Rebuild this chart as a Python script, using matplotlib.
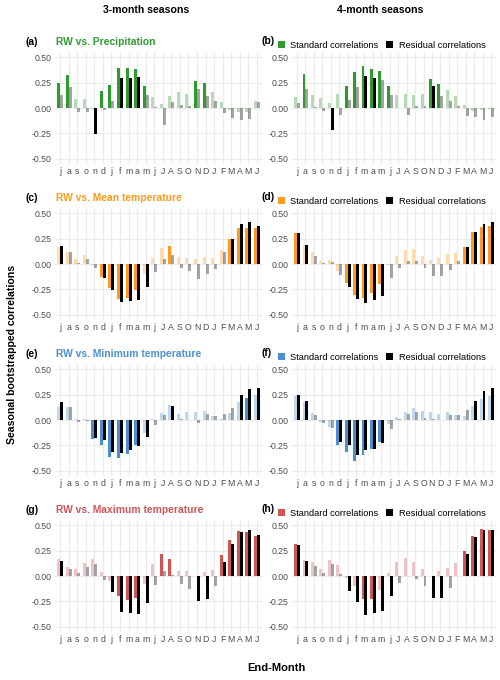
import numpy as np
import matplotlib
matplotlib.use("Agg")
import matplotlib.pyplot as plt
from matplotlib.colors import to_rgba
from matplotlib.patches import Patch

# ------------------ Configurable ------------------
OUT_PNG   = "out.png"
FIG_W_PX  = 500
FIG_H_PX  = 680
DPI       = 100
BAR_W     = 0.35     # width of each bar in a dodged pair
LIGHT_A   = 0.35     # alpha for non-significant bars
GRID_COL  = "#ebebeb"
TICK_COL  = "#4d4d4d"
# -------------------------------------------------

MONTHS = ["j", "a", "s", "o", "n", "d", "j", "f", "m", "a", "m", "j",
          "J", "A", "S", "O", "N", "D", "J", "F", "M", "A", "M", "J"]
YTICKS = [-0.50, -0.25, 0.00, 0.25, 0.50]

# (a) RW vs. Precipitation, 3-month seasons
prec3_std     = [0.25, 0.32, 0.085, 0.085, -0.01, 0.17, 0.23, 0.39, 0.39, 0.38, 0.22, 0.11,
                 0.04, 0.12, 0.155, 0.135, 0.27, 0.245, 0.155, 0.06, -0.02, -0.035, -0.04, 0.065]
prec3_res     = [0.13, 0.21, -0.04, -0.04, -0.26, -0.02, 0.07, 0.29, 0.29, 0.30, 0.125, 0.005,
                 -0.165, 0.055, 0.03, 0.015, 0.19, 0.12, 0.07, -0.05, -0.10, -0.12, -0.11, 0.055]
prec3_std_sig = [1, 1, 0, 0, 0, 1, 1, 1, 1, 1, 1, 0, 0, 0, 0, 0, 1, 1, 0, 0, 0, 0, 0, 0]
prec3_res_sig = [0, 0, 0, 0, 1, 0, 0, 1, 1, 1, 0, 0, 0, 0, 0, 0, 0, 0, 0, 0, 0, 0, 0, 0]

# (b) RW vs. Precipitation, 4-month seasons
prec4_std     = [0.105, 0.33, 0.13, 0.10, 0.045, 0.135, 0.22, 0.355, 0.415, 0.38, 0.365, 0.22,
                 0.13, 0.14, 0.125, 0.135, 0.285, 0.235, 0.175, 0.12, 0.03, -0.03, -0.02, -0.005]
prec4_res     = [0.05, 0.185, 0.01, -0.03, -0.215, -0.07, 0.075, 0.205, 0.315, 0.29, 0.275, 0.125,
                 0.0, -0.07, 0.02, 0.015, 0.215, 0.115, 0.065, 0.02, -0.08, -0.09, -0.115, -0.085]
prec4_std_sig = [0, 1, 0, 0, 0, 0, 1, 1, 1, 1, 1, 1, 0, 0, 0, 0, 1, 1, 0, 0, 0, 0, 0, 0]
prec4_res_sig = [0, 0, 0, 0, 1, 0, 0, 0, 1, 1, 0, 0, 0, 0, 0, 0, 1, 0, 0, 0, 0, 0, 0, 0]

# (c) RW vs. Mean temperature, 3-month seasons
tmean3_std     = [0.17, 0.12, 0.05, 0.085, -0.005, -0.125, -0.24, -0.34, -0.33, -0.26, -0.10, 0.055,
                  0.155, 0.18, 0.065, 0.06, 0.045, 0.065, 0.06, 0.135, 0.25, 0.355, 0.35, 0.35]
tmean3_res     = [0.18, 0.115, 0.005, 0.045, -0.035, -0.135, -0.26, -0.37, -0.365, -0.355, -0.225, -0.075,
                  0.045, 0.085, -0.035, -0.065, -0.145, -0.10, -0.045, 0.115, 0.25, 0.39, 0.41, 0.375]
tmean3_std_sig = [0, 0, 0, 0, 0, 1, 1, 1, 1, 1, 0, 0, 0, 1, 0, 0, 0, 0, 0, 0, 1, 1, 1, 1]
tmean3_res_sig = [1, 0, 0, 0, 0, 1, 1, 1, 1, 1, 1, 0, 0, 0, 0, 0, 0, 0, 0, 0, 1, 1, 1, 1]

# (d) RW vs. Mean temperature, 4-month seasons
tmean4_std     = [0.30, 0.185, 0.115, 0.025, 0.04, -0.07, -0.19, -0.30, -0.33, -0.285, -0.20, -0.01,
                  0.075, 0.135, 0.15, 0.075, 0.035, 0.06, 0.095, 0.11, 0.165, 0.31, 0.36, 0.37]
tmean4_res     = [0.30, 0.19, 0.075, 0.005, 0.02, -0.11, -0.225, -0.34, -0.38, -0.355, -0.31, -0.135,
                  -0.035, 0.025, 0.025, -0.035, -0.12, -0.12, -0.055, 0.025, 0.17, 0.315, 0.395, 0.41]
tmean4_std_sig = [1, 0, 0, 0, 0, 0, 1, 1, 1, 1, 1, 0, 0, 0, 0, 0, 0, 0, 0, 0, 1, 1, 1, 1]
tmean4_res_sig = [1, 1, 0, 0, 0, 0, 1, 1, 1, 1, 1, 0, 0, 0, 0, 0, 0, 0, 0, 0, 1, 1, 1, 1]

# (e) RW vs. Minimum temperature, 3-month seasons
tmin3_std     = [0.13, 0.125, 0.005, 0.005, -0.19, -0.25, -0.36, -0.375, -0.335, -0.25, -0.125, 0.005,
                 0.065, 0.145, 0.06, 0.075, 0.075, 0.085, 0.04, 0.01, 0.07, 0.175, 0.22, 0.25]
tmin3_res     = [0.18, 0.125, -0.015, -0.005, -0.18, -0.20, -0.315, -0.325, -0.29, -0.26, -0.17, -0.045,
                 0.045, 0.14, 0.005, 0.0, -0.025, 0.06, 0.04, 0.06, 0.12, 0.25, 0.30, 0.31]
tmin3_std_sig = [0, 0, 0, 0, 1, 1, 1, 1, 1, 1, 0, 0, 0, 0, 0, 0, 0, 0, 0, 0, 0, 0, 1, 0]
tmin3_res_sig = [1, 0, 0, 0, 1, 1, 1, 1, 1, 1, 1, 0, 0, 1, 0, 0, 0, 0, 0, 0, 0, 1, 1, 1]

# (f) RW vs. Minimum temperature, 4-month seasons
tmin4_std     = [0.235, 0.175, 0.07, -0.02, -0.065, -0.245, -0.31, -0.40, -0.34, -0.285, -0.215, -0.035,
                 0.025, 0.075, 0.115, 0.085, 0.08, 0.06, 0.075, 0.045, 0.04, 0.14, 0.205, 0.235]
tmin4_res     = [0.25, 0.19, 0.05, -0.03, -0.08, -0.215, -0.245, -0.345, -0.29, -0.285, -0.23, -0.085,
                 0.005, 0.055, 0.075, 0.02, 0.005, 0.0, 0.05, 0.045, 0.095, 0.19, 0.28, 0.315]
tmin4_std_sig = [0, 0, 0, 0, 0, 1, 1, 1, 1, 1, 1, 0, 0, 0, 0, 0, 0, 0, 0, 0, 0, 0, 0, 0]
tmin4_res_sig = [1, 1, 0, 0, 0, 1, 1, 1, 1, 1, 1, 0, 0, 0, 0, 0, 0, 0, 0, 0, 0, 1, 1, 1]

# (g) RW vs. Maximum temperature, 3-month seasons
tmax3_std     = [0.165, 0.09, 0.065, 0.13, 0.165, 0.04, -0.045, -0.20, -0.235, -0.215, -0.075, 0.12,
                 0.215, 0.165, 0.045, 0.05, 0.0, 0.035, 0.06, 0.21, 0.355, 0.44, 0.435, 0.395]
tmax3_res     = [0.145, 0.065, 0.03, 0.09, 0.12, -0.035, -0.16, -0.355, -0.365, -0.37, -0.265, -0.09,
                 0.05, 0.005, -0.08, -0.125, -0.25, -0.225, -0.095, 0.14, 0.315, 0.435, 0.455, 0.40]
tmax3_std_sig = [0, 0, 0, 0, 0, 0, 0, 1, 1, 1, 0, 0, 1, 1, 0, 0, 0, 0, 0, 1, 1, 1, 1, 1]
tmax3_res_sig = [1, 0, 0, 0, 0, 0, 1, 1, 1, 1, 1, 0, 0, 0, 0, 0, 1, 1, 0, 1, 1, 1, 1, 1]

# (h) RW vs. Maximum temperature, 4-month seasons
tmax4_std     = [0.315, 0.155, 0.14, 0.065, 0.155, 0.11, -0.015, -0.10, -0.225, -0.225, -0.14, 0.025,
                 0.135, 0.175, 0.14, 0.07, 0.0, 0.05, 0.08, 0.125, 0.25, 0.395, 0.465, 0.45]
tmax4_res     = [0.30, 0.15, 0.095, 0.025, 0.115, 0.02, -0.15, -0.26, -0.38, -0.365, -0.34, -0.195,
                 -0.07, 0.0, -0.025, -0.095, -0.22, -0.22, -0.12, 0.0, 0.22, 0.38, 0.455, 0.455]
tmax4_std_sig = [1, 0, 0, 0, 0, 0, 0, 0, 1, 1, 0, 0, 0, 0, 0, 0, 0, 0, 0, 0, 1, 1, 1, 1]
tmax4_res_sig = [1, 1, 0, 0, 0, 0, 1, 1, 1, 1, 1, 1, 0, 0, 0, 0, 1, 1, 0, 0, 1, 1, 1, 1]

VARIABLES = ["Precipitation", "Mean temperature", "Minimum temperature", "Maximum temperature"]
VAR_COLORS = ["#2e9a30", "#ff9a1c", "#4a90cf", "#d05656"]


def fx(px):
    return px / FIG_W_PX


def fy(py):
    return 1 - py / FIG_H_PX


def draw_panel(ax, std, res, std_sig, res_sig, color):
    x = np.arange(len(MONTHS))
    std_cols = [to_rgba(color, 1.0 if s else LIGHT_A) for s in std_sig]
    res_cols = [to_rgba("black", 1.0 if s else LIGHT_A) for s in res_sig]
    ax.bar(x - BAR_W / 2, std, BAR_W, color=std_cols, linewidth=0, zorder=3)
    ax.bar(x + BAR_W / 2, res, BAR_W, color=res_cols, linewidth=0, zorder=3)

    ax.set_xlim(-0.6, len(MONTHS) - 0.4)
    ax.set_ylim(-0.55, 0.55)
    ax.set_xticks(x)
    ax.set_xticklabels(MONTHS)
    ax.set_yticks(YTICKS)
    ax.set_yticklabels([f"{v:.2f}" for v in YTICKS])
    ax.tick_params(length=0, labelsize=6.3, labelcolor=TICK_COL, pad=2.5)
    ax.grid(True, color=GRID_COL, linewidth=0.9, zorder=0)
    ax.set_axisbelow(True)
    for s in ax.spines.values():
        s.set_visible(False)


def main():
    plt.rcParams["font.family"] = ["Liberation Sans", "DejaVu Sans"]

    fig = plt.figure(figsize=(FIG_W_PX / DPI, FIG_H_PX / DPI), dpi=DPI)

    panels = [
        (prec3_std, prec3_res, prec3_std_sig, prec3_res_sig),
        (prec4_std, prec4_res, prec4_std_sig, prec4_res_sig),
        (tmean3_std, tmean3_res, tmean3_std_sig, tmean3_res_sig),
        (tmean4_std, tmean4_res, tmean4_std_sig, tmean4_res_sig),
        (tmin3_std, tmin3_res, tmin3_std_sig, tmin3_res_sig),
        (tmin4_std, tmin4_res, tmin4_std_sig, tmin4_res_sig),
        (tmax3_std, tmax3_res, tmax3_std_sig, tmax3_res_sig),
        (tmax4_std, tmax4_res, tmax4_std_sig, tmax4_res_sig),
    ]
    letters = "abcdefgh"

    # axes boxes in pixels: (left, right), (top, bottom)
    col_x = [(55, 262), (292, 496)]
    row_y = [(52, 164), (208, 320), (364, 476), (520, 632)]

    for i, (std, res, ssig, rsig) in enumerate(panels):
        row, col = divmod(i, 2)
        color = VAR_COLORS[row]
        (x0, x1), (y0, y1) = col_x[col], row_y[row]
        ax = fig.add_axes([fx(x0), fy(y1), fx(x1 - x0), (y1 - y0) / FIG_H_PX])
        draw_panel(ax, std, res, ssig, rsig, color)

        if col == 0:
            fig.text(fx(26), fy(y0 - 10), f"({letters[i]})", fontsize=7.5,
                     fontweight="bold", va="center", ha="left")
            fig.text(fx(56), fy(y0 - 10), f"RW vs. {VARIABLES[row]}", fontsize=7.4,
                     fontweight="bold", color=color, va="center", ha="left")
        else:
            fig.text(fx(262), fy(y0 - 11), f"({letters[i]})", fontsize=7.5,
                     fontweight="bold", va="center", ha="left")
            handles = [Patch(facecolor=color, label="Standard correlations"),
                       Patch(facecolor="black", label="Residual correlations")]
            ax.legend(handles=handles, ncol=2, frameon=False, fontsize=6.7,
                      loc="center left", bbox_to_anchor=(-0.07, 1.062),
                      borderpad=0, borderaxespad=0, handlelength=0.8,
                      handleheight=0.8, handletextpad=0.55, columnspacing=0.8)

    # column headers and shared axis labels
    fig.text(fx(146), fy(10), "3-month seasons", fontsize=7.6, fontweight="bold",
             ha="center", va="center")
    fig.text(fx(380), fy(10), "4-month seasons", fontsize=7.6, fontweight="bold",
             ha="center", va="center")
    fig.text(fx(276), fy(668), "End-Month", fontsize=8, fontweight="bold",
             ha="center", va="center")
    fig.text(fx(12), fy(354), "Seasonal bootstrapped correlations", fontsize=7.6,
             fontweight="bold", rotation=90, ha="center", va="center")

    fig.savefig(OUT_PNG, dpi=DPI, facecolor="white")
    plt.close(fig)


if __name__ == "__main__":
    main()
